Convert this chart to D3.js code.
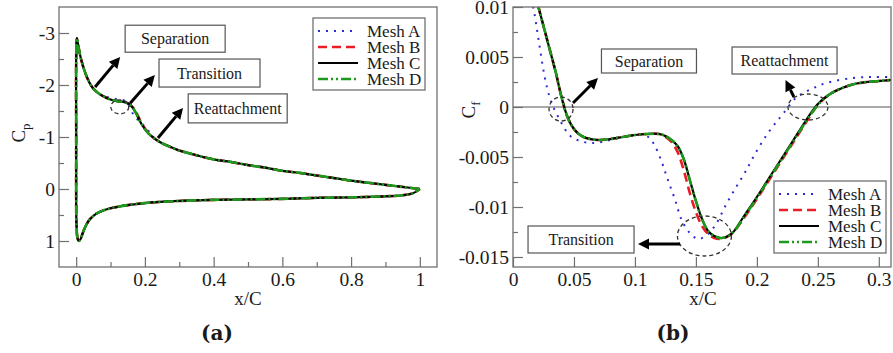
<!DOCTYPE html>
<html>
<head>
<meta charset="utf-8">
<script src="https://cdn.jsdelivr.net/npm/d3@7"></script>
<style>
  html, body { margin: 0; padding: 0; background: #fff; }
  svg { display: block; font-family: "Liberation Serif", "Times New Roman", serif; }
</style>
</head>
<body>
<div id="chart"></div>
<script>
// ---- data, panel (a): Cp along the surface (upper TE -> LE, then lower LE -> TE)
const cpX = [1.0, 0.95, 0.9, 0.85, 0.8, 0.75, 0.7, 0.65, 0.6, 0.55, 0.5, 0.45, 0.4, 0.35, 0.3, 0.27, 0.25, 0.23,
             0.21, 0.19, 0.175, 0.165, 0.155, 0.14, 0.12, 0.1, 0.08, 0.065, 0.05, 0.04, 0.03, 0.02, 0.012, 0.006, 0.002,
             0.0, 0.0, 0.0,
             0.001, 0.004, 0.008, 0.013, 0.02, 0.03, 0.04, 0.06, 0.08, 0.1, 0.15, 0.2, 0.3, 0.4, 0.5, 0.6, 0.7, 0.8, 0.9, 0.95, 0.98, 1.0];
const cpA = [0.0, -0.04, -0.08, -0.12, -0.16, -0.21, -0.26, -0.31, -0.35, -0.41, -0.46, -0.52, -0.57, -0.65, -0.74, -0.82, -0.88, -0.96,
             -1.12, -1.27, -1.36, -1.45, -1.58, -1.70, -1.73, -1.75, -1.79, -1.84, -1.93, -2.03, -2.17, -2.36, -2.56, -2.76, -2.9,
             -2.5, -1.0, 0.3,
             0.7, 0.95, 1.0, 0.96, 0.83, 0.68, 0.58, 0.47, 0.41, 0.37, 0.31, 0.27, 0.23, 0.21, 0.2, 0.19, 0.17, 0.16, 0.14, 0.12, 0.08, 0.0];
const cpB = [0.0, -0.04, -0.08, -0.12, -0.16, -0.21, -0.26, -0.31, -0.35, -0.41, -0.46, -0.52, -0.57, -0.65, -0.74, -0.82, -0.88, -0.96,
             -1.08, -1.27, -1.47, -1.57, -1.63, -1.67, -1.69, -1.72, -1.78, -1.84, -1.93, -2.03, -2.17, -2.36, -2.56, -2.76, -2.9,
             -2.5, -1.0, 0.3,
             0.7, 0.95, 1.0, 0.96, 0.83, 0.68, 0.58, 0.47, 0.41, 0.37, 0.31, 0.27, 0.23, 0.21, 0.2, 0.19, 0.17, 0.16, 0.14, 0.12, 0.08, 0.0];
const cpC = [0.0, -0.04, -0.08, -0.12, -0.16, -0.21, -0.26, -0.31, -0.35, -0.41, -0.46, -0.52, -0.57, -0.65, -0.74, -0.82, -0.88, -0.96,
             -1.07, -1.25, -1.45, -1.56, -1.63, -1.67, -1.69, -1.72, -1.78, -1.84, -1.93, -2.03, -2.17, -2.36, -2.56, -2.76, -2.9,
             -2.5, -1.0, 0.3,
             0.7, 0.95, 1.0, 0.96, 0.83, 0.68, 0.58, 0.47, 0.41, 0.37, 0.31, 0.27, 0.23, 0.21, 0.2, 0.19, 0.17, 0.16, 0.14, 0.12, 0.08, 0.0];
const cpD = [0.0, -0.04, -0.08, -0.12, -0.16, -0.21, -0.26, -0.31, -0.35, -0.41, -0.46, -0.52, -0.57, -0.65, -0.74, -0.82, -0.88, -0.96,
             -1.07, -1.25, -1.45, -1.56, -1.63, -1.67, -1.69, -1.72, -1.78, -1.84, -1.93, -2.03, -2.17, -2.36, -2.56, -2.76, -2.9,
             -2.5, -1.0, 0.3,
             0.7, 0.95, 1.0, 0.96, 0.83, 0.68, 0.58, 0.47, 0.41, 0.37, 0.31, 0.27, 0.23, 0.21, 0.2, 0.19, 0.17, 0.16, 0.14, 0.12, 0.08, 0.0];

// ---- data, panel (b): Cf on the suction side
const cfXA = [0.012, 0.017, 0.021, 0.026, 0.03, 0.033, 0.038, 0.043, 0.048, 0.055, 0.065, 0.08, 0.09, 0.1, 0.106, 0.111, 0.116, 0.122, 0.127,
              0.133, 0.138, 0.145, 0.152, 0.16, 0.167, 0.175, 0.183, 0.19, 0.198, 0.208, 0.216, 0.222, 0.232, 0.243, 0.257, 0.279, 0.295, 0.31];
const cfA  = [0.0124, 0.0097, 0.0067, 0.0030, 0.0010, 0.0, -0.0012, -0.0023, -0.0030, -0.0034, -0.0036, -0.0033, -0.0030, -0.0028, -0.0028,
              -0.0030, -0.0038, -0.0055, -0.0073, -0.0093, -0.0112, -0.0126, -0.0132, -0.0127, -0.0116, -0.0097, -0.0080, -0.0066, -0.0048,
              -0.0028, -0.0015, -0.0006, 0.0009, 0.0017, 0.0024, 0.0029, 0.0030, 0.0030];
const cfX  = [0.015, 0.02, 0.025, 0.03, 0.035, 0.04, 0.045, 0.05, 0.055, 0.06, 0.07, 0.08, 0.09, 0.1, 0.11, 0.12, 0.125, 0.13, 0.135, 0.14,
              0.145, 0.15, 0.155, 0.16, 0.165, 0.17, 0.175, 0.18, 0.19, 0.2, 0.21, 0.22, 0.23, 0.24, 0.25, 0.26, 0.27, 0.28, 0.29, 0.3, 0.31];
const cfB  = [0.0128, 0.0104, 0.0081, 0.0058, 0.0035, 0.0009, -0.0011, -0.0022, -0.0028, -0.0031, -0.0033, -0.0032, -0.0030, -0.0028,
              -0.0027, -0.0027, -0.0030, -0.0035, -0.0045, -0.0063, -0.0086, -0.0105, -0.0119, -0.0127, -0.0131, -0.0132, -0.0130, -0.0126,
              -0.0110, -0.0092, -0.0073, -0.0054, -0.0035, -0.0016, 0.0002, 0.0013, 0.0019, 0.0023, 0.0025, 0.0026, 0.0027];
const cfC  = [0.0128, 0.0104, 0.0081, 0.0058, 0.0035, 0.0009, -0.0011, -0.0022, -0.0028, -0.0031, -0.0033, -0.0032, -0.0030, -0.0028,
              -0.0027, -0.0027, -0.0029, -0.0033, -0.0039, -0.0052, -0.0073, -0.0094, -0.0112, -0.0124, -0.0129, -0.0131, -0.0130, -0.0126,
              -0.0108, -0.0090, -0.0071, -0.0052, -0.0033, -0.0014, 0.0003, 0.0013, 0.0019, 0.0023, 0.0025, 0.0026, 0.0027];
const cfD  = [0.0128, 0.0104, 0.0081, 0.0058, 0.0035, 0.0009, -0.0011, -0.0022, -0.0028, -0.0031, -0.0033, -0.0032, -0.0030, -0.0028,
              -0.0027, -0.0027, -0.0029, -0.0033, -0.0039, -0.0052, -0.0073, -0.0094, -0.0112, -0.0124, -0.0129, -0.0131, -0.0130, -0.0126,
              -0.0109, -0.0091, -0.0072, -0.0053, -0.0034, -0.0015, 0.0002, 0.0013, 0.0019, 0.0023, 0.0025, 0.0026, 0.0027];

const meshes = ["Mesh A", "Mesh B", "Mesh C", "Mesh D"];

// ticks
const cpXTicks = [0, 0.2, 0.4, 0.6, 0.8, 1];
const cpXMinor = [0.1, 0.3, 0.5, 0.7, 0.9];
const cpYTicks = [-3, -2, -1, 0, 1];
const cpYMinor = [-2.5, -1.5, -0.5, 0.5];
const cfXTicks = [0, 0.05, 0.1, 0.15, 0.2, 0.25, 0.3];
const cfYTicks = [0.01, 0.005, 0, -0.005, -0.01, -0.015];
const cfYMinor = [0.0075, 0.0025, -0.0025, -0.0075, -0.0125];

// line styles per mesh
const meshStyle = {
  "Mesh A": {color: "#2b2bd4", width: 2,   dash: "2,6"},
  "Mesh B": {color: "#ec1c24", width: 2.6, dash: "9,5"},
  "Mesh C": {color: "#000000", width: 2.2, dash: null},
  "Mesh D": {color: "#1d9a1d", width: 2.6, dash: "10,3,2,3,2,3"}
};

const svg = d3.select("#chart")
  .append("svg")
    .attr("width", 893)
    .attr("height", 353);

const axisColor = "#707070";
const textColor = "#1a1a1a";

function arrow(g, x0, y0, x1, y1) {
  const a = Math.atan2(y1 - y0, x1 - x0), L = 11, w = 5.5;
  const bx = x1 - L * Math.cos(a), by = y1 - L * Math.sin(a);
  g.append("line")
    .attr("x1", x0).attr("y1", y0).attr("x2", bx).attr("y2", by)
    .attr("stroke", "#000").attr("stroke-width", 3);
  g.append("path")
    .attr("d", `M${x1},${y1}L${bx + w * Math.sin(a)},${by - w * Math.cos(a)}L${bx - w * Math.sin(a)},${by + w * Math.cos(a)}Z`)
    .attr("fill", "#000");
}

function drawPanel(o) {
  const g = svg.append("g");
  const x = d3.scaleLinear().domain(o.xDomain).range([o.left, o.right]);
  const y = d3.scaleLinear().domain(o.yDomain).range([o.top, o.bottom]);

  const clipId = "clip-" + o.id;
  svg.append("clipPath").attr("id", clipId)
    .append("rect")
      .attr("x", o.left).attr("y", o.top)
      .attr("width", o.right - o.left).attr("height", o.bottom - o.top);

  // 1) zero line
  if (o.zeroLine) {
    g.append("line")
      .attr("x1", o.left).attr("x2", o.right)
      .attr("y1", y(0)).attr("y2", y(0))
      .attr("stroke", "#555").attr("stroke-width", 1);
  }

  // 2) curves
  const line = d3.line()
    .x(d => x(d[0])).y(d => y(d[1]))
    .curve(d3.curveCatmullRom.alpha(0.5));
  const curves = g.append("g").attr("clip-path", `url(#${clipId})`);
  o.series.forEach(s => {
    const st = meshStyle[s.name];
    curves.append("path")
      .datum(d3.zip(s.x, s.y))
      .attr("d", line)
      .attr("fill", "none")
      .attr("stroke", st.color)
      .attr("stroke-width", st.width)
      .attr("stroke-dasharray", st.dash);
  });

  // 3) axes, ticks inward
  const styleAxis = sel => {
    sel.select(".domain").remove();
    sel.selectAll("line").attr("stroke", axisColor).attr("stroke-width", 1.2);
    sel.selectAll("text")
      .style("font-size", "19.5px")
      .style("font-family", "'Liberation Serif', serif")
      .attr("fill", textColor);
  };
  if (o.xMinor) {
    g.append("g").attr("transform", `translate(0,${o.bottom})`)
      .call(d3.axisBottom(x).tickValues(o.xMinor).tickSize(-5).tickFormat(""))
      .call(styleAxis);
  }
  g.append("g").attr("transform", `translate(0,${o.bottom})`)
    .call(d3.axisBottom(x).tickValues(o.xTicks).tickSize(-10).tickPadding(5.5).tickFormat(d => String(d)))
    .call(styleAxis);
  g.append("g").attr("transform", `translate(${o.left},0)`)
    .call(d3.axisLeft(y).tickValues(o.yMinor).tickSize(-5).tickFormat(""))
    .call(styleAxis);
  g.append("g").attr("transform", `translate(${o.left},0)`)
    .call(d3.axisLeft(y).tickValues(o.yTicks).tickSize(-10).tickPadding(4).tickFormat(d => String(d)))
    .call(styleAxis);

  // 4) frame
  g.append("rect")
    .attr("x", o.left).attr("y", o.top)
    .attr("width", o.right - o.left).attr("height", o.bottom - o.top)
    .attr("fill", "none").attr("stroke", axisColor).attr("stroke-width", 1.3);

  // 5) axis titles
  g.append("text")
    .attr("x", (o.left + o.right) / 2 + o.xTitleDx).attr("y", 305)
    .attr("text-anchor", "middle")
    .style("font-size", "19px").attr("fill", textColor)
    .text("x/C");
  const yt = g.append("text")
    .attr("transform", `translate(${o.yTitleX},${o.yTitleY}) rotate(-90)`)
    .attr("text-anchor", "middle")
    .style("font-size", "19px").attr("fill", textColor);
  yt.append("tspan").text("C");
  yt.append("tspan").attr("dy", 5).style("font-size", "13px").text(o.sub);

  // 6) panel label
  g.append("text")
    .attr("x", o.labelX).attr("y", 340)
    .attr("text-anchor", "middle")
    .style("font-family", "'DejaVu Serif', serif")
    .style("font-weight", "bold")
    .style("font-size", "20px")
    .attr("fill", textColor)
    .text(o.label);

  // 7) annotations
  const ann = g.append("g");
  o.ellipses.forEach(e => {
    ann.append("ellipse")
      .attr("cx", x(e.x)).attr("cy", y(e.y)).attr("rx", e.rx).attr("ry", e.ry)
      .attr("fill", "none").attr("stroke", "#333")
      .attr("stroke-width", 1.3).attr("stroke-dasharray", "4,3");
  });
  o.arrows.forEach(a => arrow(ann, x(a.x0), y(a.y0), x(a.x1), y(a.y1)));
  o.boxes.forEach(b => {
    const cx = x(b.x), cy = y(b.y);
    ann.append("rect")
      .attr("x", cx - b.w / 2).attr("y", cy - b.h / 2)
      .attr("width", b.w).attr("height", b.h)
      .attr("fill", "#fff").attr("stroke", "#555").attr("stroke-width", 1.2);
    ann.append("text")
      .attr("x", cx).attr("y", cy).attr("dy", "0.35em")
      .attr("text-anchor", "middle")
      .style("font-size", "16px").attr("fill", textColor)
      .text(b.text);
  });

  // 8) legend
  const lg = g.append("g").attr("transform", `translate(${o.legend.x},${o.legend.y})`);
  lg.append("rect")
    .attr("width", 112).attr("height", 72)
    .attr("fill", "#fff").attr("stroke", axisColor).attr("stroke-width", 1.3);
  meshes.forEach((m, i) => {
    const st = meshStyle[m];
    const yy = 13 + i * 16;
    lg.append("line")
      .attr("x1", 5).attr("x2", 45).attr("y1", yy).attr("y2", yy)
      .attr("stroke", st.color).attr("stroke-width", st.width)
      .attr("stroke-dasharray", st.dash);
    lg.append("text")
      .attr("x", 54).attr("y", yy).attr("dy", "0.35em")
      .style("font-size", "17px").attr("fill", textColor)
      .text(m);
  });
}

// Panel (a): pressure coefficient
drawPanel({
  id: "a", left: 59, right: 437, top: 7, bottom: 267,
  xDomain: [-0.05, 1.05], yDomain: [-3.5, 1.5],
  xTicks: cpXTicks, xMinor: cpXMinor, yTicks: cpYTicks, yMinor: cpYMinor,
  series: [
    {name: "Mesh A", x: cpX, y: cpA},
    {name: "Mesh B", x: cpX, y: cpB},
    {name: "Mesh C", x: cpX, y: cpC},
    {name: "Mesh D", x: cpX, y: cpD}
  ],
  xTitleDx: 0, yTitleX: 25, yTitleY: 133, sub: "p",
  label: "(a)", labelX: 217,
  legend: {x: 313, y: 18},
  boxes: [
    {text: "Separation",   x: 0.288, y: -2.89, w: 100, h: 27},
    {text: "Transition",   x: 0.388, y: -2.23, w: 101, h: 28},
    {text: "Reattachment", x: 0.470, y: -1.55, w: 99,  h: 29}
  ],
  arrows: [
    {x0: 0.055, y0: -1.96, x1: 0.128, y1: -2.54},
    {x0: 0.157, y0: -1.65, x1: 0.229, y1: -2.19},
    {x0: 0.238, y0: -0.98, x1: 0.311, y1: -1.56}
  ],
  ellipses: [{x: 0.127, y: -1.58, rx: 9, ry: 7}]
});

// Panel (b): skin friction coefficient
drawPanel({
  id: "b", left: 513, right: 891, top: 7, bottom: 267,
  xDomain: [0, 0.31], yDomain: [0.01, -0.016],
  xTicks: cfXTicks, xMinor: null, yTicks: cfYTicks, yMinor: cfYMinor,
  zeroLine: true,
  series: [
    {name: "Mesh A", x: cfXA, y: cfA},
    {name: "Mesh B", x: cfX,  y: cfB},
    {name: "Mesh C", x: cfX,  y: cfC},
    {name: "Mesh D", x: cfX,  y: cfD}
  ],
  xTitleDx: 1, yTitleX: 475, yTitleY: 110, sub: "f",
  label: "(b)", labelX: 673,
  legend: {x: 774, y: 181},
  boxes: [
    {text: "Separation",   x: 0.1115, y: 0.0046,  w: 95,  h: 24},
    {text: "Reattachment", x: 0.2227, y: 0.00465, w: 105, h: 27},
    {text: "Transition",   x: 0.0558, y: -0.01325, w: 106, h: 27}
  ],
  arrows: [
    {x0: 0.0492, y0: 0.0004, x1: 0.0697, y1: 0.0029},
    {x0: 0.2304, y0: 0.0010, x1: 0.2235, y1: 0.0027},
    {x0: 0.137,  y0: -0.0137, x1: 0.1025, y1: -0.0137}
  ],
  ellipses: [
    {x: 0.0394, y: -0.0002, rx: 12, ry: 12},
    {x: 0.2419, y: 0.0,     rx: 20, ry: 13},
    {x: 0.157,  y: -0.0129, rx: 27, ry: 20}
  ]
});
</script>
</body>
</html>
